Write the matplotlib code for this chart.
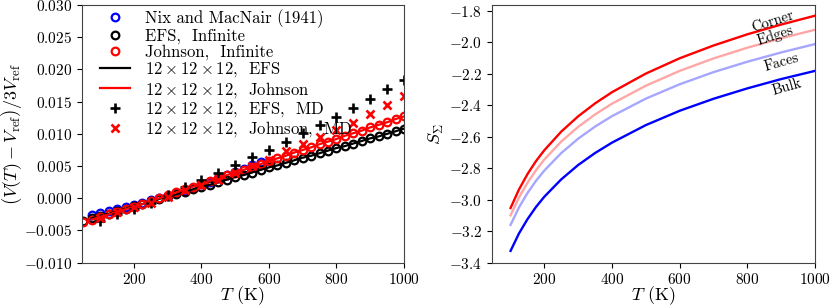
import numpy as np
import matplotlib
matplotlib.use("Agg")
import matplotlib.pyplot as plt

###############################################################################
# DATA
###############################################################################

# infinite-crystal results, every 25 K
T_inf = [50, 75, 100, 125, 150, 175, 200, 225, 250, 275, 300, 325, 350, 375,
         400, 425, 450, 475, 500, 525, 550, 575, 600, 625, 650, 675, 700, 725,
         750, 775, 800, 825, 850, 875, 900, 925, 950, 975, 1000]
efs_inf = [-0.0035, -0.0031, -0.0027, -0.0024, -0.0020, -0.0016, -0.0012,
           -0.0009, -0.0005, -0.0001, 0.0003, 0.0006, 0.0010, 0.0014, 0.0018,
           0.0021, 0.0025, 0.0029, 0.0033, 0.0036, 0.0040, 0.0044, 0.0048,
           0.0051, 0.0055, 0.0059, 0.0063, 0.0066, 0.0070, 0.0074, 0.0078,
           0.0081, 0.0085, 0.0089, 0.0093, 0.0096, 0.0100, 0.0104, 0.0108]
johnson_inf = [-0.0037, -0.0033, -0.0029, -0.0025, -0.0021, -0.0017, -0.0013,
               -0.0009, -0.0004, 0.0000, 0.0005, 0.0009, 0.0014, 0.0018,
               0.0022, 0.0027, 0.0031, 0.0036, 0.0040, 0.0044, 0.0049, 0.0053,
               0.0058, 0.0062, 0.0066, 0.0071, 0.0075, 0.0079, 0.0084, 0.0088,
               0.0092, 0.0097, 0.0101, 0.0105, 0.0110, 0.0114, 0.0118, 0.0123,
               0.0127]

# Nix and MacNair (1941)
T_nix = [75, 100, 125, 150, 175, 200, 225, 250, 275, 300, 325, 350, 375, 400,
         425, 450, 475, 500, 525, 550, 575]
nix = [-0.0026, -0.0023, -0.0020, -0.0017, -0.0014, -0.0010, -0.0007, -0.0003,
       0.0000, 0.0004, 0.0008, 0.0012, 0.0016, 0.0022, 0.0026, 0.0031, 0.0036,
       0.0041, 0.0046, 0.0051, 0.0057]

# 12x12x12 MD, every 50 K
T_md = [100, 150, 200, 250, 300, 350, 400, 450, 500, 550, 600, 650, 700, 750,
        800, 850, 900, 950, 1000]
efs_md = [-0.0035, -0.0025, -0.0017, -0.0008, 0.0005, 0.0017, 0.0028, 0.0039,
          0.0051, 0.0064, 0.0075, 0.0088, 0.0101, 0.0113, 0.0126, 0.0140,
          0.0154, 0.0169, 0.0184]
johnson_md = [-0.0030, -0.0022, -0.0014, -0.0007, 0.0002, 0.0013, 0.0021,
              0.0029, 0.0039, 0.0050, 0.0060, 0.0073, 0.0084, 0.0095, 0.0106,
              0.0117, 0.0131, 0.0145, 0.0158]

# S_Sigma curves
T_s = [100, 125, 150, 175, 200, 250, 300, 350, 400, 500, 600, 700, 800, 900,
       1000]
s_corner = [-3.053, -2.935, -2.838, -2.756, -2.686, -2.568, -2.471, -2.389,
            -2.318, -2.200, -2.103, -2.022, -1.951, -1.889, -1.833]
s_edges = [-3.100, -2.986, -2.893, -2.814, -2.745, -2.631, -2.538, -2.459,
           -2.391, -2.277, -2.183, -2.104, -2.036, -1.976, -1.922]
s_faces = [-3.160, -3.049, -2.958, -2.881, -2.815, -2.704, -2.613, -2.536,
           -2.470, -2.359, -2.268, -2.191, -2.125, -2.066, -2.013]
s_bulk = [-3.325, -3.214, -3.124, -3.047, -2.981, -2.871, -2.780, -2.704,
          -2.638, -2.527, -2.436, -2.360, -2.294, -2.235, -2.183]

###############################################################################
# SETTINGS
###############################################################################

plt.rcParams['font.family'] = 'serif'
plt.rcParams['font.serif'] = ['cmr10']
plt.rcParams['mathtext.fontset'] = 'cm'
plt.rcParams['axes.formatter.use_mathtext'] = True
plt.rcParams['axes.unicode_minus'] = True
plt.rcParams['font.size'] = 11

fig = plt.figure(figsize=(8.31, 3.07), dpi=100)
ax1 = fig.add_axes([0.0983, 0.1443, 0.3878, 0.8394])
ax2 = fig.add_axes([0.5920, 0.1443, 0.3887, 0.8394])

###############################################################################
# LEFT PANEL
###############################################################################

circ = dict(ls='none', marker='o', ms=5.5, mfc='none', mew=1.6)
ax1.plot(T_nix, nix, color='blue', label='Nix and MacNair (1941)', **circ)
ax1.plot(T_inf, efs_inf, color='black', label='EFS,  Infinite', **circ)
ax1.plot(T_inf, johnson_inf, color='red', label='Johnson,  Infinite', **circ)
ax1.plot(T_inf[1:], efs_inf[1:], color='black', lw=1.6,
         label=r'$12\times12\times12$,  EFS')
ax1.plot(T_inf[1:], johnson_inf[1:], color='red', lw=1.6,
         label=r'$12\times12\times12$,  Johnson')
ax1.plot(T_md, efs_md, ls='none', marker='+', ms=7.5, mew=1.9, color='black',
         label=r'$12\times12\times12$,  EFS,  MD')
ax1.plot(T_md, johnson_md, ls='none', marker='x', ms=6, mew=1.9, color='red',
         label=r'$12\times12\times12$,  Johnson,  MD')

ax1.set_xlim(45, 1000)
ax1.set_ylim(-0.010, 0.030)
ax1.set_xticks([200, 400, 600, 800, 1000])
ax1.set_yticks(np.arange(-0.010, 0.0301, 0.005))
ax1.yaxis.set_major_formatter(matplotlib.ticker.FormatStrFormatter(r'$%.3f$'))
ax1.set_xlabel(r'$T$ (K)', fontsize=13, labelpad=-2)
ax1.set_ylabel(r'$\left(V(T)-V_{\rm ref}\right)/3V_{\rm ref}$', fontsize=13,
               labelpad=0)
ax1.legend(loc='upper left', bbox_to_anchor=(0.045, 1.0), frameon=False,
           fontsize=12, handlelength=1.8, labelspacing=0.02,
           borderaxespad=0.1, borderpad=0.15, handletextpad=0.9)

###############################################################################
# RIGHT PANEL
###############################################################################

ax2.plot(T_s, s_bulk, color='blue', lw=1.7)
ax2.plot(T_s, s_faces, color='blue', alpha=0.35, lw=1.7)
ax2.plot(T_s, s_edges, color='red', alpha=0.35, lw=1.7)
ax2.plot(T_s, s_corner, color='red', lw=1.7)

lab = dict(ha='center', va='center', fontsize=10.5)
ax2.text(876, -1.871, 'Corner', rotation=18, **lab)
ax2.text(882, -1.956, 'Edges', rotation=18, **lab)
ax2.text(902, -2.130, 'Faces', rotation=16, **lab)
ax2.text(917, -2.289, 'Bulk', rotation=16, **lab)

ax2.set_xlim(45, 1000)
ax2.set_ylim(-3.4, -1.765)
ax2.set_xticks([200, 400, 600, 800, 1000])
ax2.set_yticks(np.arange(-3.4, -1.79, 0.2))
ax2.yaxis.set_major_formatter(matplotlib.ticker.FormatStrFormatter(r'$%.1f$'))
ax2.set_xlabel(r'$T$ (K)', fontsize=13, labelpad=-2)
ax2.set_ylabel(r'$S_\Sigma$', fontsize=13, labelpad=2)

for ax in (ax1, ax2):
    for sp in ax.spines.values():
        sp.set_color('#444444')

plt.savefig('out.png', dpi=100)
